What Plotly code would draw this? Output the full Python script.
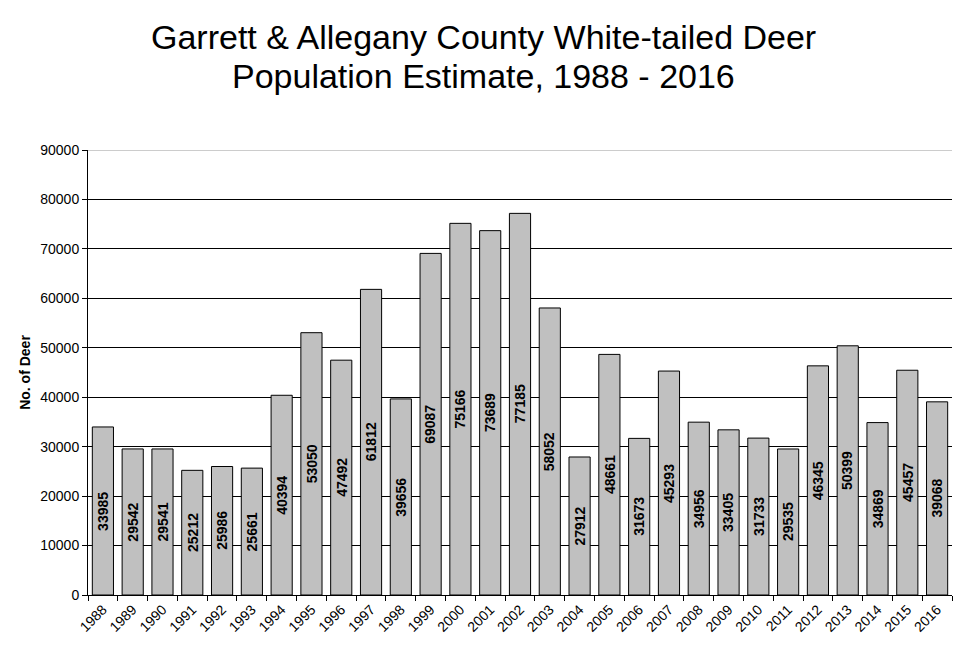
import plotly.graph_objects as go

years = [str(y) for y in range(1988, 2017)]
deer = [33985, 29542, 29541, 25212, 25986, 25661, 40394, 53050, 47492, 61812,
        39656, 69087, 75166, 73689, 77185, 58052, 27912, 48661, 31673, 45293,
        34956, 33405, 31733, 29535, 46345, 50399, 34869, 45457, 39068]
y_ticks = list(range(0, 90001, 10000))
title_lines = ["Garrett & Allegany County White-tailed Deer",
               "Population Estimate, 1988 - 2016"]

FONT = "Liberation Sans, Arial"

fig = go.Figure()
fig.add_trace(go.Bar(
    x=years, y=deer,
    marker=dict(color="#C0C0C0", line=dict(color="black", width=1)),
    hoverinfo="x+y",
))

# value labels, rotated, centred inside each bar (category index on x)
for i, v in enumerate(deer):
    fig.add_annotation(
        x=i, y=v / 2, xref="x", yref="y",
        text=f"<b>{v}</b>", textangle=-90,
        showarrow=False, xanchor="center", yanchor="middle",
        font=dict(family=FONT, size=14, color="black"),
    )

for txt, ypx in zip(title_lines, [37, 76]):
    fig.add_annotation(
        text=txt,
        xref="paper", yref="paper",
        x=(483 - 88) / 864, y=(595 - ypx) / 445,
        xanchor="center", yanchor="middle",
        showarrow=False,
        font=dict(size=34, family=FONT, color="black"),
    )

# top gridline is lighter grey in the original
fig.add_shape(type="line", xref="paper", yref="y", x0=0, x1=1,
              y0=y_ticks[-1], y1=y_ticks[-1],
              line=dict(color="#9a9a9a", width=1), layer="above")

fig.update_layout(
    width=962, height=655,
    paper_bgcolor="white", plot_bgcolor="white",
    margin=dict(l=88, r=10, t=150, b=60),
    bargap=0.29,
    showlegend=False,
    font=dict(family=FONT, color="black"),
    xaxis=dict(
        type="category",
        categoryarray=years, categoryorder="array",
        tickangle=-45,
        tickfont=dict(size=14),
        ticks="outside", ticklen=5, tickcolor="black",
        tickson="boundaries",
        showline=True, linecolor="black", linewidth=1,
        showgrid=False,
    ),
    yaxis=dict(
        range=[0, 90000],
        tickvals=y_ticks,
        ticktext=[str(v) for v in y_ticks],
        tickfont=dict(size=14),
        ticks="outside", ticklen=5, tickcolor="black",
        showline=True, linecolor="black", linewidth=1,
        showgrid=True, gridcolor="black", gridwidth=1,
        zeroline=False,
        title=dict(text="<b>No. of Deer</b>", font=dict(size=14), standoff=6),
    ),
)

fig.write_html("out.html")
